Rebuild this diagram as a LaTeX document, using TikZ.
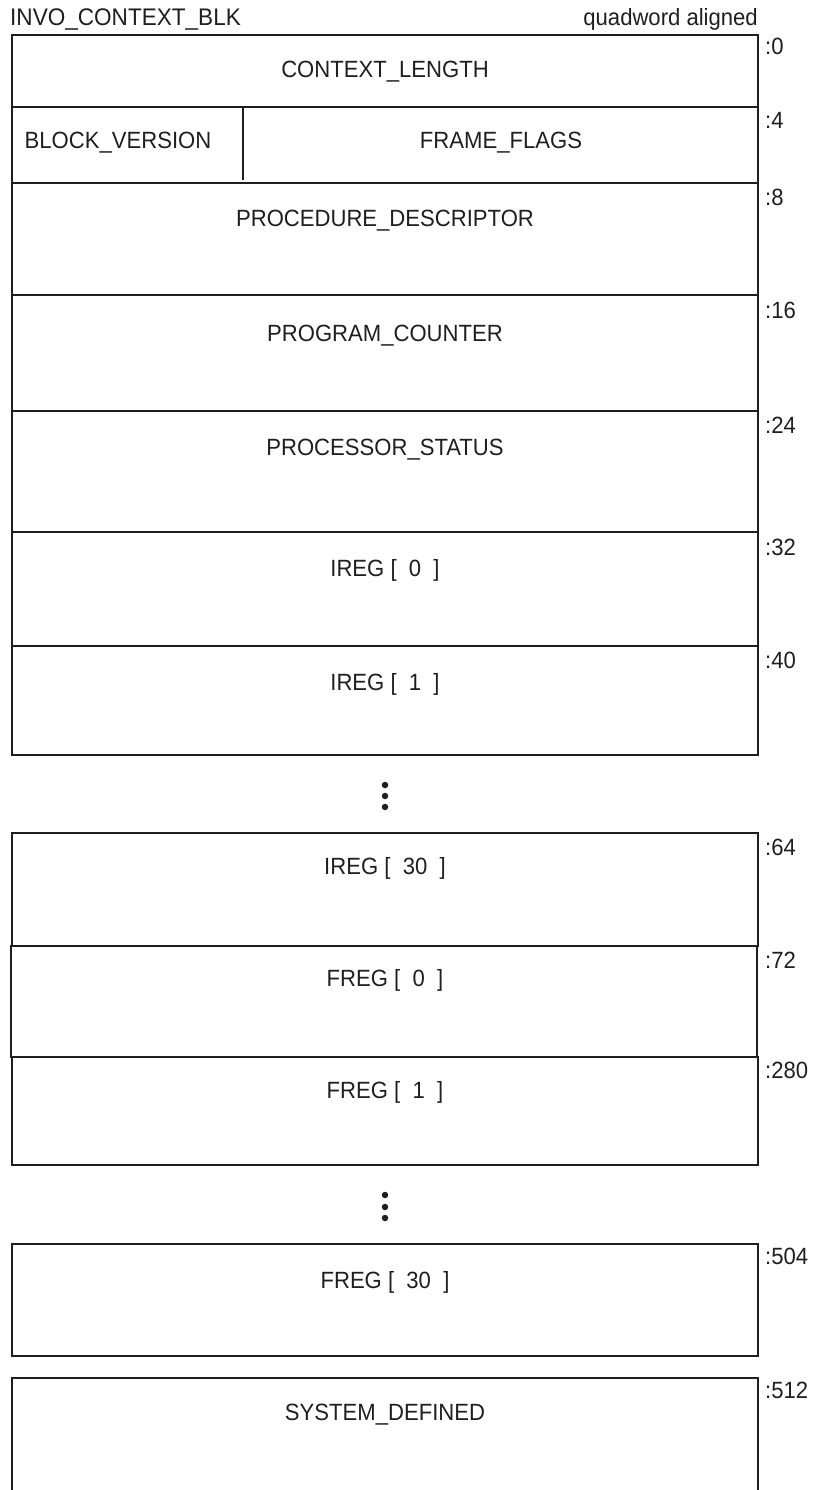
\documentclass[tikz,border=0pt]{standalone}
\usepackage{fontspec}
\setmainfont[FakeStretch=0.94]{Liberation Sans}
\begin{document}
\begin{tikzpicture}[x=1pt,y=-1pt,
  font=\fontsize{23.5}{28}\selectfont,
  box/.style={draw=black!88, line width=1.8pt, rectangle, inner sep=0pt, outer sep=0pt, anchor=north west, minimum width=746pt},
  txt/.style={inner sep=0pt, anchor=base, text=black!88},
  off/.style={inner sep=0pt, anchor=base west, text=black!88},
  dot/.style={circle, fill=black!88, inner sep=0pt, minimum size=6.5pt}]
\useasboundingbox (0,0) rectangle (817,1490);

% header
\node[inner sep=0pt, anchor=base west, text=black!88, font=\fontsize{24}{28}\selectfont] (title) at (10,26) {INVO\_CONTEXT\_BLK};
\node[inner sep=0pt, anchor=base east, text=black!88] (align) at (758,26) {quadword aligned};

% boxes, first group
\node[box, minimum height=72pt]  (b0) at (12,35) {};
\node[box, minimum height=76pt]  (b4) at (12,107) {};
\node[box, minimum height=112pt] (b8) at (12,183) {};
\node[box, minimum height=116pt] (b16) at (12,295) {};
\node[box, minimum height=121pt] (b24) at (12,411) {};
\node[box, minimum height=114pt] (b32) at (12,532) {};
\node[box, minimum height=109pt] (b40) at (12,646) {};
\coordinate (divtop) at (243,107);
\coordinate (divbot) at (243,180);
\draw[draw=black!88, line width=1.8pt] (divtop) -- (divbot);

% dots
\node[dot] (d1) at (385,785) {};
\node[dot] (d2) at (385,796) {};
\node[dot] (d3) at (385,807) {};

% second group
\node[box, minimum height=113pt] (b64) at (12,833) {};
\node[box, minimum height=111pt] (b72) at (11,946) {};
\node[box, minimum height=108pt] (b280) at (12,1057) {};

\node[dot] (e1) at (385,1195) {};
\node[dot] (e2) at (385,1207) {};
\node[dot] (e3) at (385,1218) {};

\node[box, minimum height=112pt] (b504) at (12,1244) {};
\draw[draw=black!88, line width=1.8pt] (12,1495) -- (12,1378) -- (758,1378) -- (758,1495);

% field texts
\node[txt] (t0) at (385,78) {CONTEXT\_LENGTH};
\node[txt] (t4a) at (118,149) {BLOCK\_VERSION};
\node[txt] (t4b) at (501,149) {FRAME\_FLAGS};
\node[txt] (t8) at (385,226) {PROCEDURE\_DESCRIPTOR};
\node[txt] (t16) at (385,341) {PROGRAM\_COUNTER};
\node[txt] (t24) at (385,455) {PROCESSOR\_STATUS};
\node[txt] (t32) at (385,576) {IREG [\ \ 0\ \ ]};
\node[txt] (t40) at (385,690) {IREG [\ \ 1\ \ ]};
\node[txt] (t64) at (385,874) {IREG [\ \ 30\ \ ]};
\node[txt] (t72) at (385,986) {FREG [\ \ 0\ \ ]};
\node[txt] (t280) at (385,1098) {FREG [\ \ 1\ \ ]};
\node[txt] (t504) at (385,1288) {FREG [\ \ 30\ \ ]};
\node[txt] (t512) at (385,1420) {SYSTEM\_DEFINED};

% offsets
\node[off] (o0) at (765,55) {:0};
\node[off] (o4) at (765,129) {:4};
\node[off] (o8) at (765,205) {:8};
\node[off] (o16) at (765,318) {:16};
\node[off] (o24) at (765,433) {:24};
\node[off] (o32) at (765,555) {:32};
\node[off] (o40) at (765,668) {:40};
\node[off] (o64) at (765,855) {:64};
\node[off] (o72) at (765,968) {:72};
\node[off] (o280) at (765,1078) {:280};
\node[off] (o504) at (765,1264) {:504};
\node[off] (o512) at (765,1398) {:512};
\end{tikzpicture}
\end{document}
